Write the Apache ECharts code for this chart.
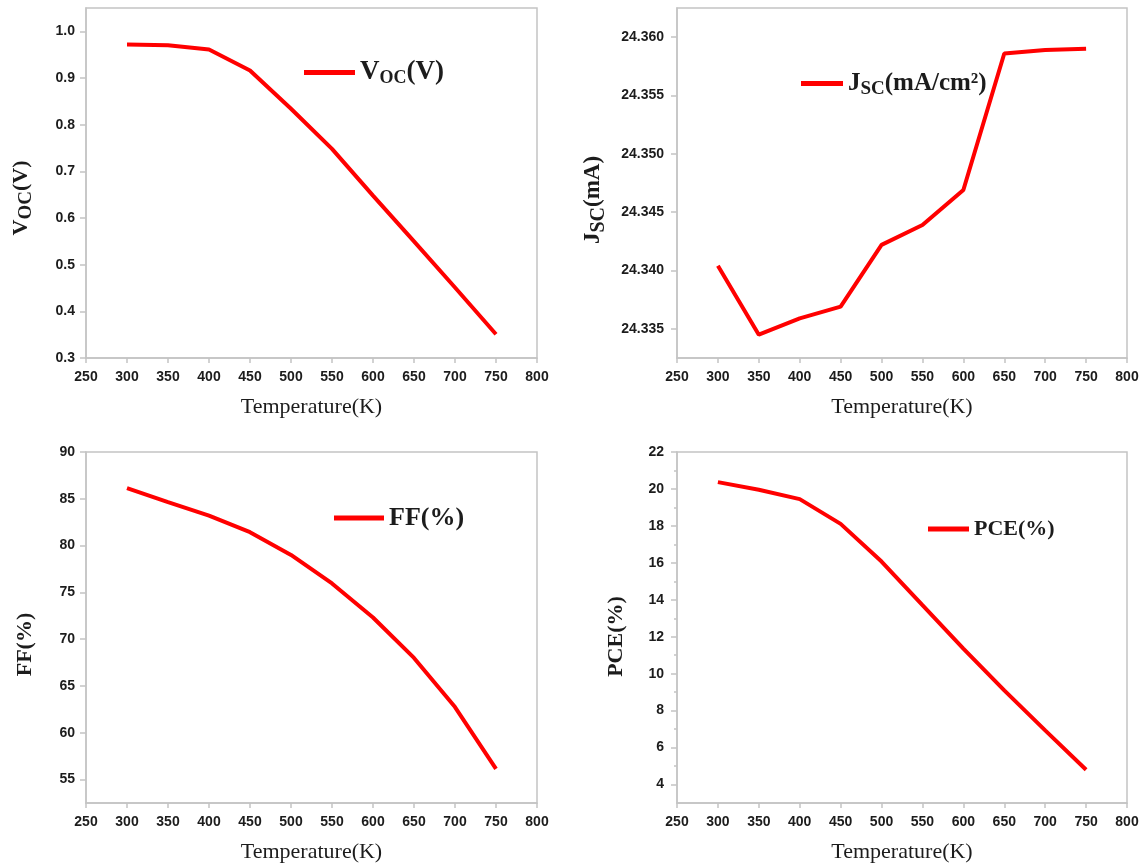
<!DOCTYPE html>
<html>
<head>
<meta charset="utf-8">
<script src="https://cdn.jsdelivr.net/npm/echarts@6/dist/echarts.min.js"></script>
<style>
  html, body { margin: 0; padding: 0; background: #fff; }
  #chart { width: 1146px; height: 868px; }
</style>
</head>
<body>
<div id="chart"></div>
<script>
// Temperature sweep (K) shared by all four panels
const temperature = [300, 350, 400, 450, 500, 550, 600, 650, 700, 750];

// Device parameters at each temperature
const vocValues = [0.972, 0.970, 0.961, 0.916, 0.834, 0.748, 0.648, 0.550, 0.451, 0.351];
const jscValues = [24.3404, 24.3345, 24.3359, 24.3369, 24.3422, 24.3439, 24.3469, 24.3586, 24.3589, 24.3590];
const ffValues = [86.14, 84.64, 83.21, 81.43, 79.00, 75.96, 72.32, 68.00, 62.75, 56.14];
const pceValues = [20.37, 19.96, 19.45, 18.11, 16.07, 13.71, 11.36, 9.10, 6.93, 4.80];

// Tick labels
const vocTicks = [0.3, 0.4, 0.5, 0.6, 0.7, 0.8, 0.9, 1.0];
const jscTicks = [24.335, 24.340, 24.345, 24.350, 24.355, 24.360];
const ffTicks = [55, 60, 65, 70, 75, 80, 85, 90];
const pceTicks = [4, 6, 8, 10, 12, 14, 16, 18, 20, 22];
const pceMinorTicks = [5, 7, 9, 11, 13, 15, 17, 19, 21];

const AXIS_GREY = '#c4c4c4';
const LABEL_COLOR = '#1c1c1c';
const SERIF = '"Liberation Serif", "Times New Roman", serif';
const SANS = '"Liberation Sans", Arial, sans-serif';
const RED = '#ff0000';

const grids = [
  { left: 86, top: 8, width: 451, height: 350 },
  { left: 677, top: 8, width: 450, height: 350 },
  { left: 86, top: 452, width: 451, height: 351 },
  { left: 677, top: 452, width: 450, height: 351 }
].map(g => Object.assign({ show: true, borderColor: AXIS_GREY, borderWidth: 1.5, backgroundColor: 'transparent' }, g));

// rich-text styles: m = main text, s = lowered subscript
function richSet(main, sub) {
  return {
    m: { fontFamily: SERIF, fontWeight: 'bold', fontSize: main, color: LABEL_COLOR },
    s: { fontFamily: SERIF, fontWeight: 'bold', fontSize: sub, color: LABEL_COLOR, padding: [Math.round(sub * 0.6), 0, 0, 0] }
  };
}

function xAxisFor(gridIndex) {
  return {
    type: 'value', gridIndex, min: 250, max: 800, interval: 50,
    name: 'Temperature(K)', nameLocation: 'middle', nameGap: 38,
    nameTextStyle: { fontFamily: SERIF, fontSize: 22, color: LABEL_COLOR },
    axisLine: { show: true, lineStyle: { color: AXIS_GREY, width: 1.5 } },
    axisTick: { show: true, inside: false, length: 5, lineStyle: { color: AXIS_GREY, width: 1.5 } },
    axisLabel: { fontFamily: SANS, fontWeight: 'bold', fontSize: 14, color: LABEL_COLOR, margin: 12 },
    splitLine: { show: false }
  };
}

function yAxisFor(gridIndex, min, max, ticks, digits, name, rich, nameGap, namePad, margin) {
  return {
    type: 'value', gridIndex, min, max,
    name, nameLocation: 'middle', nameGap,
    nameTextStyle: { rich, padding: namePad },
    axisLine: { show: true, lineStyle: { color: AXIS_GREY, width: 1.5 } },
    axisTick: { show: true, inside: false, length: 6, customValues: ticks, lineStyle: { color: AXIS_GREY, width: 1.5 } },
    axisLabel: {
      customValues: ticks, fontFamily: SANS, fontWeight: 'bold', fontSize: 14, color: LABEL_COLOR, margin,
      formatter: v => Number(v).toFixed(digits)
    },
    splitLine: { show: false }
  };
}

function seriesFor(name, idx, values) {
  return {
    name, type: 'line', xAxisIndex: idx, yAxisIndex: idx,
    data: temperature.map((t, i) => [t, values[i]]),
    symbol: 'none', smooth: false,
    lineStyle: { color: RED, width: 4 }, itemStyle: { color: RED },
    animation: false
  };
}

function legendFor(name, label, rich, left, top, lineLength) {
  return {
    data: [name], left, top, padding: 0, itemWidth: lineLength, itemHeight: 5,
    icon: 'rect',
    itemStyle: { color: RED },
    formatter: () => label,
    textStyle: { rich },
    selectedMode: false
  };
}

const yAxes = [
  yAxisFor(0, 0.3, 1.05, vocTicks, 1, '{m|V}{s|OC}{m|(V)}', richSet(22, 19), 50, [0, 30, 0, 0], 11),
  yAxisFor(1, 24.3325, 24.3625, jscTicks, 3, '{m|J}{s|SC}{m|(mA)}', richSet(23, 20), 68, [0, 34, 0, 0], 13),
  yAxisFor(2, 52.5, 90, ffTicks, 0, '{m|FF(%)}', richSet(22, 15), 50, [0, 34, 0, 0], 11),
  yAxisFor(3, 3, 22, pceTicks, 0, '{m|PCE(%)}', richSet(22, 15), 50, [0, 18, 0, 0], 13),
  // short minor ticks on the PCE axis
  {
    type: 'value', gridIndex: 3, min: 3, max: 22, position: 'left',
    axisLine: { show: false },
    axisTick: { show: true, length: 3, customValues: pceMinorTicks, lineStyle: { color: AXIS_GREY, width: 1.5 } },
    axisLabel: { show: false }, splitLine: { show: false }
  }
];

const option = {
  backgroundColor: '#ffffff',
  animation: false,
  grid: grids,
  xAxis: [xAxisFor(0), xAxisFor(1), xAxisFor(2), xAxisFor(3)],
  yAxis: yAxes,
  legend: [
    legendFor('Voc', '{m|V}{s|OC}{m|(V)}', richSet(27, 18), 304, 59, 51),
    legendFor('Jsc', '{m|J}{s|SC}{m|(mA/cm²)}', richSet(25, 19), 801, 71, 42),
    legendFor('FF', '{m|FF(%)}', richSet(26, 17), 334, 505, 50),
    legendFor('PCE', '{m|PCE(%)}', richSet(22, 15), 928, 518, 41)
  ],
  series: [
    seriesFor('Voc', 0, vocValues),
    seriesFor('Jsc', 1, jscValues),
    seriesFor('FF', 2, ffValues),
    seriesFor('PCE', 3, pceValues)
  ]
};

const chart = echarts.init(document.getElementById('chart'), null, { renderer: 'canvas' });
chart.setOption(option);
</script>
</body>
</html>
